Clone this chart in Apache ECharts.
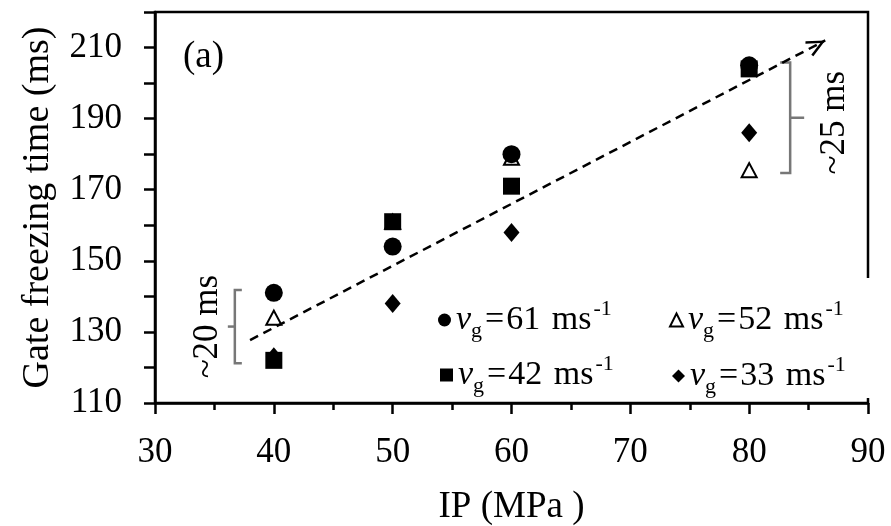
<!DOCTYPE html>
<html>
<head>
<meta charset="utf-8">
<script src="https://cdn.jsdelivr.net/npm/echarts@6/dist/echarts.min.js"></script>
<style>
  html, body { margin: 0; padding: 0; background: #fff; }
  #chart { width: 891px; height: 526px; }
</style>
</head>
<body>
<div id="chart"></div>
<script>
// data
var ip = [40, 50, 60, 80];                 // IP (MPa)
var v61 = [141, 154, 180, 205];            // circles
var v52 = [134, 161, 179, 175.5];          // open triangles
var v42 = [122, 161, 171, 204];            // squares
var v33 = [123, 138, 158, 186];            // diamonds
var speeds = ['61', '52', '42', '33'];
var trendX = [38, 86.4];
var trendY = [127.7, 212];
var bracketIP = [40, 80];
var bracketText = ['~20 ms', '~25 ms'];

var FONT = 'Liberation Serif';
var chart = echarts.init(document.getElementById('chart'));

function pairs(ys) {
    return ip.map(function (x, i) { return [x, ys[i]]; });
}

// bracket ranges come from the points at that IP
var all = [v61, v52, v42, v33];
var bracketData = bracketIP.map(function (x, k) {
    var i = ip.indexOf(x);
    var vals = all.map(function (s) { return s[i]; });
    return [x, Math.min.apply(null, vals) - 0.8, Math.max.apply(null, vals) + 0.8, k === 0 ? -1 : 1];
});

function renderBracket(params, api) {
    var x = api.value(0), side = api.value(3);
    var pLo = api.coord([x, api.value(1)]);
    var pHi = api.coord([x, api.value(2)]);
    var sx = pLo[0] + (side < 0 ? -39 : 41);
    var arm = side < 0 ? 7 : -10;
    var nub = side < 0 ? -7 : 14;
    var mid = (pLo[1] + pHi[1]) / 2;
    return {
        type: 'group',
        children: [{
            type: 'polyline',
            shape: { points: [[sx + arm, pHi[1]], [sx, pHi[1]], [sx, pLo[1]], [sx + arm, pLo[1]]] },
            style: { stroke: '#777', lineWidth: 2.5, fill: null }
        }, {
            type: 'line',
            shape: { x1: sx, y1: mid, x2: sx + nub, y2: mid },
            style: { stroke: '#777', lineWidth: 2.5 }
        }, {
            type: 'text',
            x: sx + (side < 0 ? -27 : 45),
            y: mid + (side < 0 ? 0 : 5),
            rotation: Math.PI / 2,
            style: {
                text: bracketText[params.dataIndex],
                fontFamily: FONT, fontSize: 35, fill: '#000',
                align: 'center', verticalAlign: 'middle'
            }
        }]
    };
}

var rich = {
    v: { fontFamily: FONT, fontStyle: 'italic', fontSize: 34, lineHeight: 44, color: '#000' },
    g: { fontFamily: FONT, fontSize: 22, lineHeight: 24, verticalAlign: 'bottom', color: '#000', padding: [0, 1, 0, 0] },
    e: { fontFamily: FONT, fontSize: 34, lineHeight: 44, color: '#000', padding: [0, 2, 0, 2] },
    n: { fontFamily: FONT, fontSize: 34, lineHeight: 44, color: '#000' },
    u: { fontFamily: FONT, fontSize: 34, lineHeight: 44, color: '#000', padding: [0, 0, 0, 3] },
    s: { fontFamily: FONT, fontSize: 22, lineHeight: 24, verticalAlign: 'top', color: '#000', padding: [0, 0, 0, 2] }
};

function legendFor(k, left, top, padding) {
    return {
        data: ['v' + speeds[k]],
        left: left, top: top,
        padding: padding,
        backgroundColor: '#fff',
        itemWidth: 13, itemHeight: 13,
        textStyle: { rich: rich },
        formatter: function () {
            return '{v|v}{g|g}{e|=}{n|' + speeds[k] + '}{u| ms}{s|-1}';
        }
    };
}

// the arrow head: open chevron pointing up, tip at the centre of its box
var chevron = 'path://M0,0 L8.5,18 L6.3,19.2 L0,5.6 L-6.3,19.2 L-8.5,18 Z M0,-19.2 L0.01,-19.2 L0,-19.19 Z';

var option = {
    animation: false,
    backgroundColor: '#fff',
    title: {
        text: '(a)', left: 178, top: 34,
        textStyle: { fontFamily: FONT, fontSize: 37, fontWeight: 'normal', color: '#000' }
    },
    grid: {
        left: 155, right: 23, top: 12, bottom: 123,
        outerBoundsMode: 'none',
        show: true, borderColor: '#000', borderWidth: 2.5
    },
    legend: [
        legendFor(0, 433, 294, [4, 10, 4, 5]),
        legendFor(1, 664, 278, [20, 40, 10, 5]),
        legendFor(2, 435, 351, [2, 10, 0, 5]),
        legendFor(3, 667, 352, [2, 40, 0, 5])
    ],
    xAxis: {
        type: 'value', min: 30, max: 90, interval: 10,
        name: 'IP (MPa )', nameLocation: 'middle', nameGap: 86,
        nameTextStyle: { fontFamily: FONT, fontSize: 37, color: '#000' },
        axisLine: { lineStyle: { color: '#000', width: 2.5 } },
        axisTick: { length: 11, lineStyle: { color: '#000', width: 2.5 } },
        minorTick: { show: true, splitNumber: 2, length: 7, lineStyle: { color: '#000', width: 2.5 } },
        splitLine: { show: false },
        axisLabel: { fontFamily: FONT, fontSize: 35, color: '#000', margin: 32 }
    },
    yAxis: {
        type: 'value', min: 110, max: 220, interval: 10,
        name: 'Gate freezing time (ms)', nameLocation: 'middle', nameGap: 98,
        nameTextStyle: { fontFamily: FONT, fontSize: 38, color: '#000' },
        axisLine: { show: true, lineStyle: { color: '#000', width: 2.5 } },
        axisTick: { length: 11, lineStyle: { color: '#000', width: 2.5 } },
        splitLine: { show: false },
        axisLabel: {
            fontFamily: FONT, fontSize: 35, color: '#000', margin: 33,
            formatter: function (v) { return (v - 110) % 20 === 0 ? String(v) : ''; }
        }
    },
    series: [{
        name: 'v52', type: 'scatter', data: pairs(v52),
        symbol: 'triangle', symbolSize: [15, 14],
        itemStyle: { color: '#fff', borderColor: '#000', borderWidth: 2, opacity: 1 }
    }, {
        name: 'v33', type: 'scatter', data: pairs(v33),
        symbol: 'diamond', symbolSize: [16, 19],
        itemStyle: { color: '#000', opacity: 1 }
    }, {
        name: 'v61', type: 'scatter', data: pairs(v61),
        symbol: 'circle', symbolSize: 18,
        itemStyle: { color: '#000', opacity: 1 }
    }, {
        name: 'v42', type: 'scatter', data: pairs(v42),
        symbol: 'rect', symbolSize: 17,
        itemStyle: { color: '#000', opacity: 1 }
    }, {
        name: 'trend', type: 'line',
        data: trendX.map(function (x, i) { return [x, trendY[i]]; }),
        showSymbol: false, lineStyle: { opacity: 0 },
        markLine: {
            silent: true,
            symbol: ['none', chevron],
            symbolSize: [17, 38],
            label: { show: false },
            lineStyle: { color: '#000', type: [9, 6], width: 2.5 },
            data: [[{ coord: [trendX[0], trendY[0]] }, { coord: [trendX[1], trendY[1]] }]]
        }
    }, {
        name: 'brackets', type: 'custom',
        renderItem: renderBracket,
        data: bracketData
    }]
};
chart.setOption(option);
</script>
</body>
</html>
